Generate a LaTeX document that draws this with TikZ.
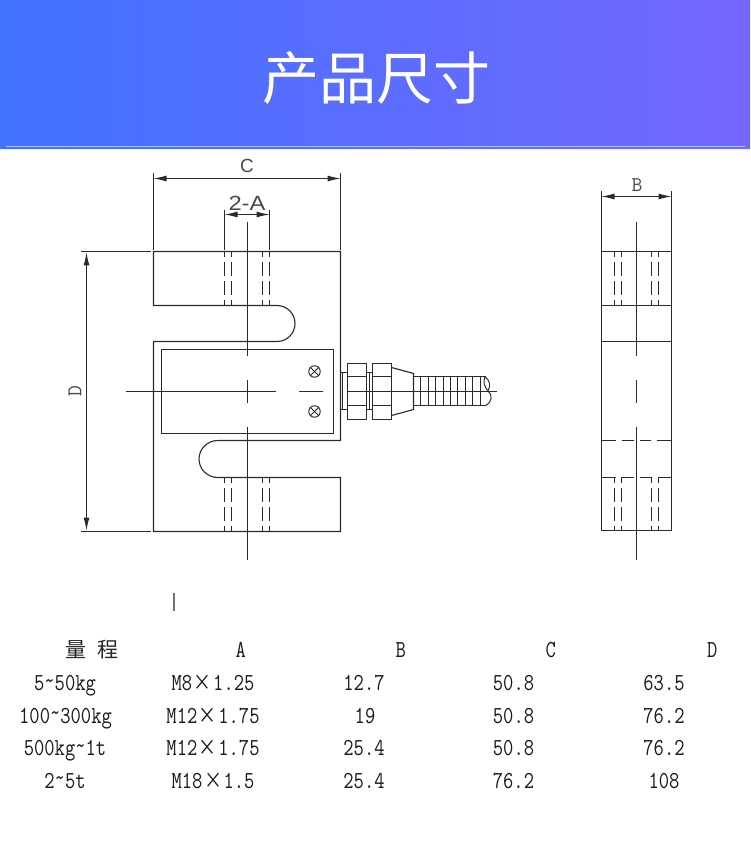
\documentclass[tikz,border=0pt]{standalone}
\usepackage{fontspec}
\usepackage{graphicx}
\newfontfamily\cjk{Noto Sans CJK SC}
\newfontfamily\cad{Liberation Sans}
\usetikzlibrary{arrows.meta}
\definecolor{ink}{HTML}{2A2A2A}
\definecolor{blueL}{HTML}{3A74FF}
\definecolor{blueR}{HTML}{7C66FF}
\tikzset{
  part/.style={draw=ink,line width=1.1pt,line join=miter},
  thin part/.style={draw=ink,line width=0.95pt},
  hid/.style={draw=ink,line width=1.1pt,dash pattern=on 14pt off 5pt,dash phase=8.5pt},
  dimline/.style={draw=ink,line width=1.05pt,{Latex[length=13pt,width=6pt]}-{Latex[length=13pt,width=6pt]}},
  cell/.style={inner sep=0pt,anchor=base,text=black!90,font=\ttfamily\fontsize{20}{24}\selectfont},
  cadtxt/.style={inner sep=0pt,text=ink!85,font=\cad\fontsize{19}{20}\selectfont},
  cadser/.style={inner sep=0pt,text=ink!85,font=\ttfamily\fontsize{21}{22}\selectfont},
}
\newcommand{\tc}[1]{\scalebox{1}[1.22]{#1}}
\newcommand{\tild}{\raisebox{0.1em}{\textasciitilde}}
\newcommand{\tms}{\makebox[21pt]{\normalfont\cjk\fontsize{18}{24}\selectfont ×}}
\begin{document}
\begin{tikzpicture}[x=1pt,y=-1pt]
\useasboundingbox (0,0) rectangle (750,866);
\fill[white] (0,0) rectangle (750,866);
% banner
\begin{scope}
\clip (0,1) rectangle (750,148.5);
\shade[left color=blueL,right color=blueR,rotate around={12:(375,74)}] (-20,-400) rectangle (770,550);
\end{scope}
\draw[white!60!blueL!85!gray,line width=1pt] (6,147) -- (745,147);
\node[inner sep=0pt,text=white,font=\cjk\fontsize{57}{60}\selectfont] (title) at (376,78) {产品尺寸};
% front view outline
\path[part] (153.5,251.5) -- (340.5,251.5) -- (340.5,440.5) -- (218,440.5)
  .. controls (207.5,440.5) and (199,448.6) .. (199,459)
  .. controls (199,469.4) and (207.5,477.5) .. (218,477.5)
  -- (340.5,477.5) -- (340.5,531.5) -- (153.5,531.5) -- (153.5,341.5) -- (277,341.5)
  .. controls (287,341.5) and (295,333.5) .. (295,323.5)
  .. controls (295,313.5) and (287,305.5) .. (277,305.5)
  -- (153.5,305.5) -- cycle;
\draw[part] (161.5,349.5) rectangle (333.5,433.5);
% centre lines front
\draw[part] (247.5,222) -- (247.5,356);
\draw[part] (247.5,380) -- (247.5,403);
\draw[part] (247.5,427) -- (247.5,560);
\draw[part] (126,391.5) -- (276,391.5);
\draw[part] (299,391.5) -- (323,391.5);
% hidden threads front
\foreach \x in {224.5,231.5,262.5,269.5}{
  \draw[hid] (\x,251.5) -- (\x,305.5);
  \draw[hid] (\x,477.5) -- (\x,531.5);
}
% screws
\foreach \n/\y in {a/371.5,b/411.5}{
  \node[draw=ink,line width=0.95pt,circle,minimum size=11.5pt,inner sep=0pt] (screw\n) at (314.5,\y) {};
  \draw[thin part] (screw\n.45) -- (screw\n.225);
  \draw[thin part] (screw\n.135) -- (screw\n.315);
}
% dimension C
\coordinate (cl) at (153.5,178.5); \coordinate (cr) at (340.5,178.5);
\draw[part] (153.5,173) -- (153.5,250);
\draw[part] (340.5,173) -- (340.5,250);
\draw[dimline] (cl) -- (cr);
\node[cadtxt] (lblC) at (247,166) {C};
% dimension 2-A
\coordinate (al) at (224.5,214.5); \coordinate (ar) at (269.5,214.5);
\draw[part] (224.5,210) -- (224.5,250);
\draw[part] (269.5,210) -- (269.5,250);
\draw[dimline] (al) -- (ar);
\node[cadtxt] (lblA) at (247,203) {\scalebox{1.25}[1.08]{2-A}};
% dimension D
\coordinate (dt) at (86.5,252.5); \coordinate (db) at (86.5,530.5);
\draw[part] (81,251.5) -- (151,251.5);
\draw[part] (81,531.5) -- (151,531.5);
\draw[dimline] (dt) -- (db);
\node[cadser,rotate=90] (lblD) at (75,391) {D};
% connector
\draw[part] (340.5,372.5) rectangle (347.5,409.5);
\draw[thin part] (342.5,372.5) -- (342.5,409.5);
\draw[part] (347.5,363.5) rectangle (366.5,419.5);
\draw[part] (366.5,372.5) rectangle (372.5,409.5);
\draw[thin part] (369.5,372.5) -- (369.5,409.5);
\draw[part] (372.5,363.5) rectangle (391.5,419.5);
\foreach \xa/\xb in {347.5/366.5,372.5/391.5}{
  \draw[thin part] (\xa,376.5) -- (\xb,376.5);
  \draw[thin part] (\xa,405.5) -- (\xb,405.5);
}
\draw[part] (391.5,367.5) -- (413.5,373.5) -- (413.5,409.5) -- (391.5,415.5);
\draw[part] (413.5,376.5) -- (486,376.5);
\draw[part] (413.5,405.5) -- (486,405.5);
\foreach \x in {420.5,428.5,435.5,443.5,450.5,457.5,465.5,472.5,480.5}{
  \draw[thin part] (\x,376.5) -- (\x,405.5);
}
\draw[thin part] (485,376.5) .. controls (490,381) and (491,385) .. (488,391)
  .. controls (493,396) and (492,401) .. (486,405.5);
\draw[thin part] (485,376.5) .. controls (483,382) and (484,386) .. (488,391);
\draw[part] (346.5,391.5) -- (497,391.5);
% side view
\draw[part] (601.5,191.5) -- (601.5,530.5) -- (671.5,530.5) -- (671.5,191.5);
\draw[part] (601.5,251.5) -- (671.5,251.5);
\draw[part] (601.5,305.5) -- (671.5,305.5);
\draw[part] (601.5,341.5) -- (671.5,341.5);
\coordinate (bl) at (601.5,196.5); \coordinate (br) at (671.5,196.5);
\draw[dimline] (bl) -- (br);
\node[cadser] (lblB) at (637,185) {B};
\draw[part] (636.5,222) -- (636.5,356);
\draw[part] (636.5,380) -- (636.5,403);
\draw[part] (636.5,427) -- (636.5,560);
\foreach \x in {614.5,621.5,651.5,658.5}{
  \draw[hid] (\x,251.5) -- (\x,305.5);
  \draw[hid] (\x,477.5) -- (\x,530.5);
}
\foreach \xa/\xb in {601.5/616,621.5/633.5,639.5/651,656.5/671.5}{
  \draw[part] (\xa,440.5) -- (\xb,440.5);
}
\foreach \xa/\xb in {601.5/616,621/633.5,639.5/652,658/671.5}{
  \draw[part] (\xa,477.5) -- (\xb,477.5);
}
% stray mark
\draw[black!55,line width=1.6pt] (173.7,593) -- (173.7,611);
% table
\node[inner sep=0pt,anchor=base,text=black!85,font=\cjk\fontsize{21}{24}\selectfont] (h0a) at (75.5,657.5) {量};
\node[inner sep=0pt,anchor=base,text=black!85,font=\cjk\fontsize{21}{24}\selectfont] (h0b) at (108,657.5) {程};
\node[cell] (hA) at (240.7,657) {\tc{A}};
\node[cell] (hB) at (400.7,657) {\tc{B}};
\node[cell] (hC) at (550.7,657) {\tc{C}};
\node[cell] (hD) at (712.3,657) {\tc{D}};
\node[cell] (r1a) at (65,690.5) {\tc{5\tild 50kg}};
\node[cell] (r1b) at (213,690.5) {\tc{M8\tms 1.25}};
\node[cell] (r1c) at (364,690.5) {\tc{12.7}};
\node[cell] (r1d) at (513.5,690.5) {\tc{50.8}};
\node[cell] (r1e) at (664,690.5) {\tc{63.5}};
\node[cell] (r2a) at (65.5,723) {\tc{100\tild 300kg}};
\node[cell] (r2b) at (213,723) {\tc{M12\tms 1.75}};
\node[cell] (r2c) at (365,723) {\tc{19}};
\node[cell] (r2d) at (513.5,723) {\tc{50.8}};
\node[cell] (r2e) at (664,723) {\tc{76.2}};
\node[cell] (r3a) at (65,755.5) {\tc{500kg\tild 1t}};
\node[cell] (r3b) at (213,755.5) {\tc{M12\tms 1.75}};
\node[cell] (r3c) at (364,755.5) {\tc{25.4}};
\node[cell] (r3d) at (513.5,755.5) {\tc{50.8}};
\node[cell] (r3e) at (664,755.5) {\tc{76.2}};
\node[cell] (r4a) at (65,788) {\tc{2\tild 5t}};
\node[cell] (r4b) at (213,788) {\tc{M18\tms 1.5}};
\node[cell] (r4c) at (364,788) {\tc{25.4}};
\node[cell] (r4d) at (513.5,788) {\tc{76.2}};
\node[cell] (r4e) at (664,788) {\tc{108}};
\end{tikzpicture}
\end{document}
